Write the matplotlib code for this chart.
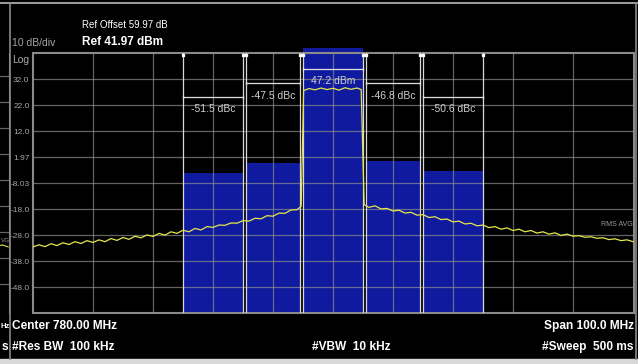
import numpy as np
import matplotlib.pyplot as plt
from matplotlib.lines import Line2D
from matplotlib.patches import Rectangle

plt.rcParams['font.family'] = ['Liberation Sans', 'DejaVu Sans']

# Analyzer settings
center_mhz = 780.0
span_mhz = 100.0
ref_dbm = 41.97
db_div = 10
ytick_text = ['32.0', '22.0', '12.0', '1.97', '-8.03', '-18.0', '-28.0', '-38.0', '-48.0']

# ACP channels (offset from center, MHz)
chan_lo = [-25.0, -14.5, -5.0, 5.5, 15.0]
chan_hi = [-15.0, -5.5, 5.0, 14.5, 25.0]
main_power = 47.2
acp_dbc = [-51.5, -47.5, 0.0, -46.8, -50.6]
acp_text = ['-51.5 dBc', '-47.5 dBc', '47.2 dBm', '-46.8 dBc', '-50.6 dBc']

# RMS average trace (offset MHz, dBm)
trace_off = [-50, -49, -48, -47, -46, -45, -44, -43, -42, -41, -40, -39, -38, -37, -36,
             -35, -34, -33, -32, -31, -30, -29, -28, -27, -26, -25, -24, -23, -22, -21,
             -20, -19, -18, -17, -16, -15, -14, -13, -12, -11, -10, -9, -8, -7, -6,
             -5.3, -4.9, -4, -3, -2, -1, 0, 1, 2, 3, 4, 4.7, 5.2,
             6, 7, 8, 9, 10, 11, 12, 13, 14, 15, 16, 17, 18, 19, 20, 21, 22, 23, 24, 25,
             26, 27, 28, 29, 30, 31, 32, 33, 34, 35, 36, 37, 38, 39, 40, 41, 42, 43, 44,
             45, 46, 47, 48, 49, 50]
trace_db = [-32.6, -31.8, -32.5, -31.4, -32.1, -31.0, -31.7, -30.6, -31.3, -30.2, -30.9,
            -29.9, -30.6, -29.4, -30.1, -29.0, -29.7, -28.5, -29.1, -28.0, -28.6, -27.4,
            -28.1, -26.8, -27.4, -26.2, -26.8, -25.5, -26.1, -24.8, -25.1, -24.2, -24.3,
            -23.4, -23.5, -22.5, -22.7, -21.6, -21.8, -20.6, -20.8, -19.6, -19.7, -18.4,
            -18.3, -17.0,
            27.5, 28.3, 27.8, 28.5, 27.9, 28.4, 27.7, 28.6, 28.0, 28.5, 27.9, -16.4,
            -17.4, -16.8, -18.0, -17.8, -18.8, -18.5, -19.6, -19.3, -20.4, -20.2, -21.3,
            -21.0, -22.1, -21.9, -23.0, -22.7, -23.8, -23.5, -24.5, -24.2, -25.2, -24.8,
            -25.8, -25.3, -26.3, -25.8, -26.8, -26.3, -27.3, -26.8, -27.7, -27.2, -28.2,
            -27.7, -28.5, -28.3, -28.9, -28.7, -29.3, -29.1, -29.8, -29.5, -30.2, -29.9,
            -30.6]

W, H = 638, 364
def fx(x):
    return x / W
def fy(y):
    return 1 - y / H

fig = plt.figure(figsize=(W / 100, H / 100), dpi=100, facecolor='black')

grid_c = '#8e8e8e'
blue = '#0f1a9e'
yellow = '#e6e64c'
levels = [ref_dbm - db_div * k for k in range(1, 10)]
ymin = ref_dbm - 10 * db_div

# main display
ax = fig.add_axes([fx(33), fy(313), 601 / W, 260 / H])
ax.set_facecolor('black')
ax.set_xlim(center_mhz - span_mhz / 2, center_mhz + span_mhz / 2 + 1 / 6)
ax.set_ylim(ymin, ref_dbm)
for s in ax.spines.values():
    s.set_color('#8a8a8a')
    s.set_linewidth(1.5)
ax.set_xticks([])
ax.set_yticks(levels, ytick_text)
ax.tick_params(axis='y', length=0, labelsize=6, labelcolor='#a6a6a6', pad=2.5)

for k in range(1, 10):
    ax.axvline(center_mhz - span_mhz / 2 + k * span_mhz / 10, color=grid_c, lw=0.9,
               alpha=0.7, zorder=3)
for lv in levels:
    ax.axhline(lv, color=grid_c, lw=0.9, alpha=0.7, zorder=3)

# channel power bars
for lo, hi, dbc in zip(chan_lo, chan_hi, acp_dbc):
    top = main_power + dbc
    clip = True
    if top > ref_dbm:
        top = ref_dbm + 2
        clip = False
    ax.bar(center_mhz + lo, top - ymin, width=hi - lo, bottom=ymin, align='edge',
           color=blue, zorder=1, clip_on=clip)
    for e in (lo, hi):
        ax.axvline(center_mhz + e, color='#d8d8d8', lw=0.9, zorder=4)
        ax.plot(center_mhz + e, ref_dbm - 0.8, 's', ms=1.5, color='white', zorder=6)

# brackets and labels
br_y = [25.0, 30.4, 35.8, 30.4, 25.0]
tx_y = [20.3, 25.6, 31.2, 25.6, 20.3]
for lo, hi, by, ty, t in zip(chan_lo, chan_hi, br_y, tx_y, acp_text):
    ax.plot([center_mhz + lo, center_mhz + hi], [by, by], color='#e0e0e0', lw=0.9,
            zorder=5)
    ax.plot([center_mhz + lo, center_mhz + hi], [by, by], '|', ms=3, mew=0.9,
            color='#e0e0e0', zorder=5)
    ax.text(center_mhz + (lo + hi) / 2, ty, t, ha='center', va='center', fontsize=7.5,
            color='#cfcfcf', zorder=6)

ax.plot(center_mhz + np.array(trace_off), trace_db, color=yellow, lw=0.9, zorder=7)
fig.text(fx(633), fy(224), 'RMS AVG', ha='right', va='center', fontsize=5, color='#9a9a9a')

# partial window on the left edge
axl = fig.add_axes([0, fy(313), 9 / W, 260 / H])
axl.set_facecolor('black')
axl.set_xlim(828.5, 830.17)
axl.set_ylim(ymin - 1, ref_dbm - 1)
for s in axl.spines.values():
    s.set_visible(False)
axl.spines['right'].set_visible(True)
axl.spines['right'].set_color('#8a8a8a')
axl.set_xticks([])
axl.set_yticks([])
for lv in levels:
    axl.axhline(lv, color=grid_c, lw=0.9, alpha=0.7)
axl.plot(center_mhz + np.array(trace_off), np.array(trace_db) - 3, color=yellow, lw=0.8)
fig.text(fx(0.5), fy(240), 'VG', ha='left', va='center', fontsize=4.5, color='#9a9a9a')

# header text
fig.text(fx(82), fy(25), 'Ref Offset 59.97 dB', ha='left', va='center', fontsize=7,
         color='white')
fig.text(fx(82), fy(42), 'Ref 41.97 dBm', ha='left', va='center', fontsize=8.5,
         color='white', weight='bold')
fig.text(fx(12), fy(43), '10 dB/div', ha='left', va='center', fontsize=7.5,
         color='#a6a6a6')
fig.text(fx(12), fy(60), 'Log', ha='left', va='center', fontsize=7.5, color='#a6a6a6')

# footer text
fs = 8.6
fig.text(fx(12), fy(326), 'Center %.2f MHz' % center_mhz, ha='left', va='center',
         fontsize=fs, color='white', weight='bold')
fig.text(fx(12), fy(347), '#Res BW  100 kHz', ha='left', va='center', fontsize=fs,
         color='white', weight='bold')
fig.text(fx(351), fy(347), '#VBW  10 kHz', ha='center', va='center', fontsize=fs,
         color='white', weight='bold')
fig.text(fx(634), fy(326), 'Span %.1f MHz' % span_mhz, ha='right', va='center',
         fontsize=fs, color='white', weight='bold')
fig.text(fx(634), fy(347), '#Sweep  500 ms', ha='right', va='center', fontsize=fs,
         color='white', weight='bold')
fig.text(fx(0.5), fy(326), 'Hz', ha='left', va='center', fontsize=5.5, color='white',
         weight='bold')
fig.text(fx(8.5), fy(347), 's', ha='right', va='center', fontsize=fs, color='white',
         weight='bold')

# screen frame
fig.add_artist(Line2D([0, 1], [fy(2.5), fy(2.5)], color='#9a9a9a', lw=1.5))
fig.add_artist(Line2D([fx(9.5), fx(9.5)], [fy(3), fy(359)], color='#8a8a8a', lw=1.2))
fig.add_artist(Line2D([fx(636), fx(636)], [fy(3), fy(359)], color='#8a8a8a', lw=1.2))
fig.add_artist(Rectangle((0, 0), 1, 5 / H, transform=fig.transFigure,
                         color='#d8d8d8'))

fig.savefig('out.png', dpi=100, facecolor='black')
